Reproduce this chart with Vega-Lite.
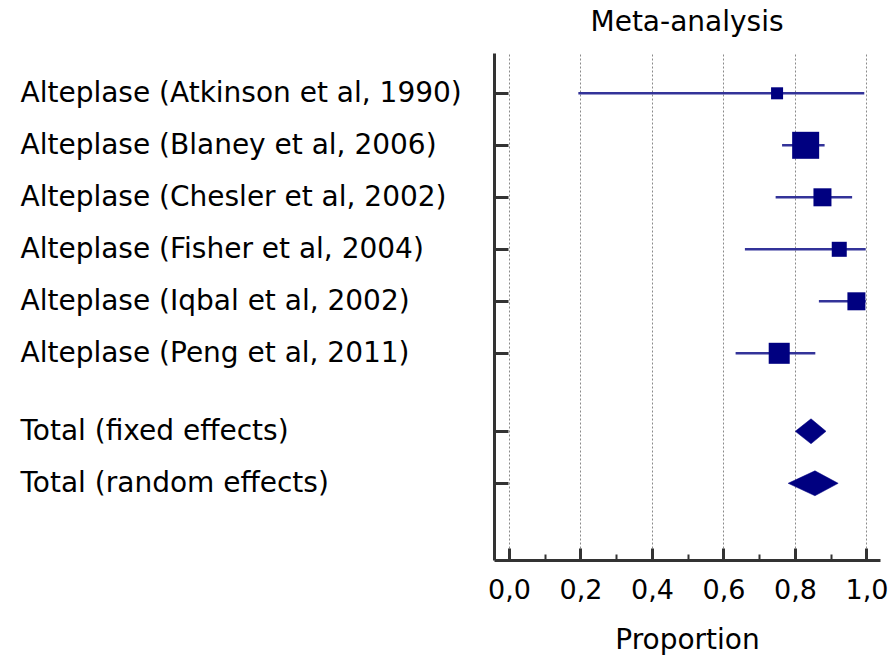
{
  "$schema": "https://vega.github.io/schema/vega-lite/v6.json",
  "width": 386,
  "height": 507,
  "autosize": "none",
  "padding": {"left": 494, "top": 53, "right": 15, "bottom": 95},
  "background": "white",
  "config": {"view": {"stroke": null}, "font": "DejaVu Sans"},
  "title": {"text": "Meta-analysis", "font": "DejaVu Sans", "fontSize": 28, "fontWeight": "normal", "color": "#000000", "anchor": "middle", "frame": "group", "baseline": "alphabetic", "offset": -6},
  "datasets": {
    "rows": [
      {"label": "Alteplase (Atkinson et al, 1990)", "pos": 0, "kind": "study", "est": 0.75, "lower": 0.194, "upper": 0.994, "weight": 6.6},
      {"label": "Alteplase (Blaney et al, 2006)", "pos": 1, "kind": "study", "est": 0.83, "lower": 0.764, "upper": 0.883, "weight": 33.3},
      {"label": "Alteplase (Chesler et al, 2002)", "pos": 2, "kind": "study", "est": 0.877, "lower": 0.746, "upper": 0.96, "weight": 14.8},
      {"label": "Alteplase (Fisher et al, 2004)", "pos": 3, "kind": "study", "est": 0.924, "lower": 0.66, "upper": 0.998, "weight": 10.3},
      {"label": "Alteplase (Iqbal et al, 2002)", "pos": 4, "kind": "study", "est": 0.972, "lower": 0.867, "upper": 0.998, "weight": 14.8},
      {"label": "Alteplase (Peng et al, 2011)", "pos": 5, "kind": "study", "est": 0.756, "lower": 0.634, "upper": 0.857, "weight": 20.2},
      {"label": "Total (fixed effects)", "pos": 6.5, "kind": "total", "est": 0.845, "lower": 0.801, "upper": 0.887},
      {"label": "Total (random effects)", "pos": 7.5, "kind": "total", "est": 0.856, "lower": 0.781, "upper": 0.921}
    ]
  },
  "resolve": {"axis": {"x": "independent"}},
  "layer": [
    {
      "data": {"name": "rows"},
      "transform": [{"filter": "datum.kind === 'study'"}],
      "mark": {"type": "rule", "color": "#333399", "strokeWidth": 2.5},
      "encoding": {
        "x": {
          "field": "lower", "type": "quantitative",
          "scale": {"domain": [-0.042, 1.038], "nice": false, "zero": false},
          "axis": {
            "orient": "bottom",
            "values": [0, 0.2, 0.4, 0.6, 0.8, 1.0],
            "labelExpr": "replace(format(datum.value, '.1f'), '.', ',')",
            "labelFont": "DejaVu Sans", "labelFontSize": 27, "labelColor": "#000000",
            "labelBaseline": "alphabetic", "labelPadding": 50, "labelFlush": false, "labelOverlap": false,
            "domain": true, "domainColor": "#333333", "domainWidth": 3,
            "ticks": true, "tickSize": -12, "tickWidth": 3, "tickColor": "#333333",
            "grid": true, "gridColor": "#8a8a8a", "gridDash": [2, 2], "gridWidth": 1,
            "title": "Proportion", "titleFont": "DejaVu Sans", "titleFontSize": 28, "titleFontWeight": "normal", "titleColor": "#000000",
            "titleBaseline": "alphabetic", "titleY": 88
          }
        },
        "x2": {"field": "upper"},
        "y": {
          "field": "pos", "type": "quantitative",
          "scale": {"domain": [-0.775, 8.975], "reverse": true, "nice": false, "zero": false},
          "axis": {
            "orient": "left",
            "values": [0, 1, 2, 3, 4, 5, 6.5, 7.5],
            "labelExpr": "datum.value == 0 ? 'Alteplase (Atkinson et al, 1990)' : datum.value == 1 ? 'Alteplase (Blaney et al, 2006)' : datum.value == 2 ? 'Alteplase (Chesler et al, 2002)' : datum.value == 3 ? 'Alteplase (Fisher et al, 2004)' : datum.value == 4 ? 'Alteplase (Iqbal et al, 2002)' : datum.value == 5 ? 'Alteplase (Peng et al, 2011)' : datum.value == 6.5 ? 'Total (fixed effects)' : 'Total (random effects)'",
            "labelFont": "DejaVu Sans", "labelFontSize": 28, "labelColor": "#000000",
            "labelAlign": "left", "labelBaseline": "middle", "labelPadding": 488, "labelLimit": 700,
            "labelOverlap": false, "labelFlush": false,
            "domain": true, "domainColor": "#333333", "domainWidth": 3,
            "ticks": true, "tickSize": -14, "tickWidth": 3, "tickColor": "#333333",
            "grid": false, "title": null
          }
        }
      }
    },
    {
      "data": {"name": "rows"},
      "transform": [{"filter": "datum.kind === 'study'"}],
      "mark": {"type": "point", "shape": "square", "filled": true, "color": "#000080", "opacity": 1},
      "encoding": {
        "x": {"field": "est", "type": "quantitative", "axis": null},
        "y": {"field": "pos", "type": "quantitative"},
        "size": {"field": "weight", "type": "quantitative", "scale": {"domain": [0, 33.3], "range": [0, 729]}, "legend": null}
      }
    },
    {
      "data": {"name": "rows"},
      "transform": [
        {"filter": "datum.kind === 'total'"},
        {"fold": ["lower", "est", "upper"], "as": ["vertex", "value"]},
        {"calculate": "datum.pos - (datum.vertex === 'est' ? 0.24 : 0)", "as": "top"},
        {"calculate": "datum.pos + (datum.vertex === 'est' ? 0.24 : 0)", "as": "bottom"}
      ],
      "mark": {"type": "area", "orient": "vertical", "color": "#000080", "opacity": 1, "stroke": "#000080", "strokeWidth": 0.5},
      "encoding": {
        "x": {
          "field": "value", "type": "quantitative",
          "axis": {
            "orient": "bottom",
            "values": [0.1, 0.3, 0.5, 0.7, 0.9],
            "labels": false, "domain": false, "grid": false,
            "ticks": true, "tickSize": -6, "tickWidth": 2, "tickColor": "#333333",
            "title": null
          }
        },
        "y": {"field": "top", "type": "quantitative"},
        "y2": {"field": "bottom"},
        "detail": {"field": "label", "type": "nominal"}
      }
    }
  ]
}
